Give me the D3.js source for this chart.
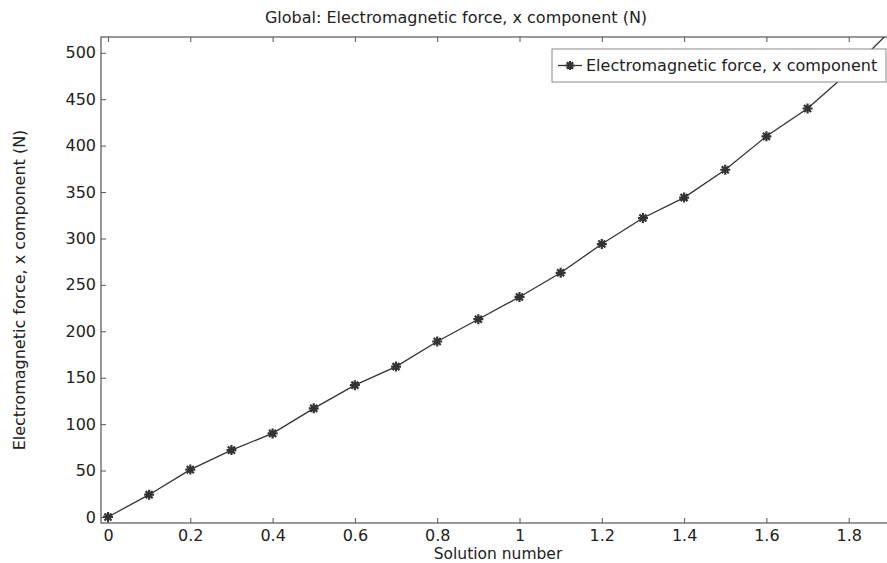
<!DOCTYPE html>
<html>
<head>
<meta charset="utf-8">
<script src="https://cdn.jsdelivr.net/npm/d3@7"></script>
<style>
  body { margin: 0; background: #fff; }
  svg { display: block; font-family: "DejaVu Sans", sans-serif; }
</style>
</head>
<body>
<div class="grafico"></div>
<script>
// solution number and force x component (N)
var solucao = [0, 0.1, 0.2, 0.3, 0.4, 0.5, 0.6, 0.7, 0.8, 0.9, 1.0, 1.1, 1.2, 1.3, 1.4, 1.5, 1.6, 1.7, 1.8, 1.9];
var forca = [0, 24, 51, 72, 90, 117, 142, 162, 189, 213, 237, 263, 294, 322, 344, 374, 410, 440, 479, 523];
var xTicks = [0, 0.2, 0.4, 0.6, 0.8, 1.0, 1.2, 1.4, 1.6, 1.8];
var yTicks = [0, 50, 100, 150, 200, 250, 300, 350, 400, 450, 500];

var width = 887, height = 563;
var esq = 101, topo = 37, base = 523, dir = 938; // the frame runs past the window on the right

var svg = d3.select(".grafico").append("svg")
  .attr("width", width)
  .attr("height", height);

var x = d3.scaleLinear().domain([-0.017, 2.017]).range([esq, dir]);
var y = d3.scaleLinear().domain([-6.5, 517]).range([base, topo]);

var corEixo = "#555";
var corTexto = "#222";

// frame
svg.append("rect")
  .attr("x", esq).attr("y", topo)
  .attr("width", dir - esq).attr("height", base - topo)
  .attr("fill", "none").attr("stroke", corEixo).attr("stroke-width", 1.2);

// bottom axis, ticks inward
var eixoX = svg.append("g")
  .attr("transform", "translate(0," + base + ")")
  .call(d3.axisBottom(x).tickValues(xTicks).tickSize(-5).tickPadding(6.5)
    .tickFormat(function(d){ return d3.format("")(+d.toFixed(1)); }));
eixoX.select(".domain").remove();
eixoX.selectAll("line").attr("stroke", corEixo);
eixoX.selectAll("text").attr("font-size", 16).attr("fill", corTexto)
  .attr("font-family", "DejaVu Sans");

// top axis, ticks only
var eixoTopo = svg.append("g")
  .attr("transform", "translate(0," + topo + ")")
  .call(d3.axisTop(x).tickValues(xTicks).tickSize(-5).tickFormat(""));
eixoTopo.select(".domain").remove();
eixoTopo.selectAll("line").attr("stroke", corEixo);

// left axis
var eixoY = svg.append("g")
  .attr("transform", "translate(" + esq + ",0)")
  .call(d3.axisLeft(y).tickValues(yTicks).tickSize(-5).tickPadding(5));
eixoY.select(".domain").remove();
eixoY.selectAll("line").attr("stroke", corEixo);
eixoY.selectAll("text").attr("font-size", 16).attr("fill", corTexto)
  .attr("font-family", "DejaVu Sans");

// titles
svg.append("text")
  .attr("x", 456).attr("y", 23)
  .attr("text-anchor", "middle")
  .attr("font-size", 16).attr("fill", corTexto)
  .text("Global: Electromagnetic force, x component (N)");

svg.append("text")
  .attr("x", 498).attr("y", 559.3)
  .attr("text-anchor", "middle")
  .attr("font-size", 15.5).attr("fill", corTexto)
  .text("Solution number");

svg.append("text")
  .attr("transform", "translate(25," + 290 + ") rotate(-90)")
  .attr("text-anchor", "middle")
  .attr("font-size", 16).attr("fill", corTexto)
  .text("Electromagnetic force, x component (N)");

// data
var dados = solucao.map(function(s, i){ return {s: s, f: forca[i]}; });

var linha = d3.line()
  .x(function(d){ return x(d.s); })
  .y(function(d){ return y(d.f); });

var plot = svg.append("g");
plot.append("clipPath").attr("id", "clip")
  .append("rect").attr("x", esq).attr("y", topo)
  .attr("width", dir - esq).attr("height", base - topo);

var g = plot.append("g").attr("clip-path", "url(#clip)");

g.append("path")
  .datum(dados)
  .attr("d", linha)
  .attr("fill", "none")
  .attr("stroke", "#333")
  .attr("stroke-width", 1.3);

// asterisk marker
function estrela(r) {
  var p = "";
  for (var k = 0; k < 4; k++) {
    var a = k * Math.PI / 4;
    var cx = r * Math.cos(a), cy = r * Math.sin(a);
    p += "M" + (-cx) + "," + (-cy) + "L" + cx + "," + cy;
  }
  return p;
}

g.selectAll(".mk")
  .data(dados)
  .enter()
  .append("path")
  .attr("class", "mk")
  .attr("transform", function(d){ return "translate(" + x(d.s) + "," + y(d.f) + ")"; })
  .attr("d", estrela(5))
  .attr("stroke", "#333")
  .attr("stroke-width", 2.2)
  .attr("fill", "none");

// legend
var leg = svg.append("g");
leg.append("rect")
  .attr("x", 552).attr("y", 49)
  .attr("width", 334).attr("height", 33)
  .attr("fill", "#fff")
  .attr("stroke", "#888").attr("stroke-width", 1);
leg.append("line")
  .attr("x1", 558).attr("x2", 582)
  .attr("y1", 65.5).attr("y2", 65.5)
  .attr("stroke", "#333").attr("stroke-width", 1.3);
leg.append("path")
  .attr("transform", "translate(570,65.5)")
  .attr("d", estrela(4.5))
  .attr("stroke", "#333").attr("stroke-width", 2.2);
leg.append("text")
  .attr("x", 586).attr("y", 71)
  .attr("font-size", 16).attr("fill", corTexto)
  .text("Electromagnetic force, x component");
</script>
</body>
</html>
